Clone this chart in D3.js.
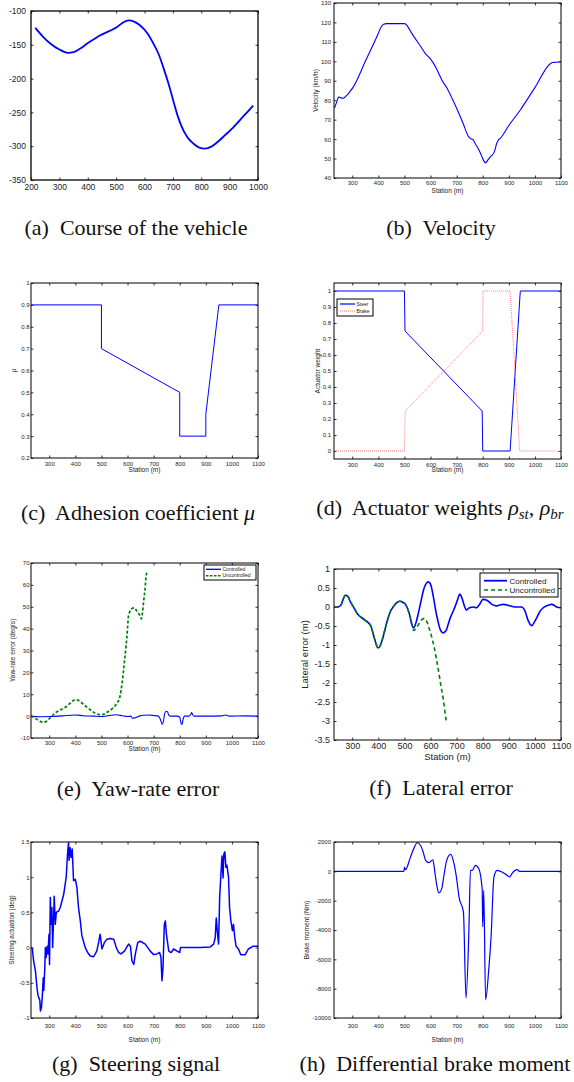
<!DOCTYPE html>
<html>
<head>
<meta charset="utf-8">
<script src="https://cdn.jsdelivr.net/npm/d3@7"></script>
<style>
body { margin: 0; background: #fff; }
svg text { font-family: "Liberation Sans", Arial, sans-serif; }
.cap { font-family: "Liberation Serif", "Times New Roman", serif; white-space: pre; }
</style>
</head>
<body>
<svg id="fig" width="574" height="1082"></svg>
<script>
// ---- data ----
var stationTicks = [300, 400, 500, 600, 700, 800, 900, 1000, 1100];

// (a) course of the vehicle: [x, y]
var courseTicksX = [200, 300, 400, 500, 600, 700, 800, 900, 1000];
var courseTicksY = [-350, -300, -250, -200, -150, -100];
var course = [[215,-125],[240,-137],[268,-148],[300,-157],[330,-161.8],[350,-161],[372,-156],[397,-148.6],[444,-136],[502,-124],[525,-117],[543,-114],[565,-116],[584,-121],[610,-133],[631,-148],[650,-164],[666,-183],[685,-208],[701,-232],[716,-254],[731,-271],[750,-286],[772,-296],[793,-302],[813,-303.5],[834,-301],[854,-295],[883,-284],[913,-272],[948,-256],[983,-240]];

// (b) velocity (km/h)
var velocityTicks = [40, 50, 60, 70, 80, 90, 100, 110, 120, 130];
var velocity = [[232,76],[240,79],[245,81],[250,81.6],[257,81.2],[264,81],[270,81.4],[277,82.2],[290,84.3],[303,86.6],[350,100],[398,113.8],[410,117.5],[420,119.1],[432,119.4],[470,119.4],[500,119.4],[506,119],[512,118],[530,114],[563,107.5],[580,104],[601,101],[620,97],[645,90],[664,86],[684,80.5],[703,75],[725,68],[747,61],[754,60.2],[762,59.8],[772,57.5],[785,54.5],[797,51],[804,48.8],[811,47.8],[820,49.3],[830,51],[842,52.8],[848,55],[853,57.6],[860,59.5],[868,60.5],[900,67],[944,75],[1000,86.5],[1059,98.8],[1068,99.4],[1080,99.5],[1100,99.7]];

// (c) adhesion coefficient
var muTicks = [0.2, 0.3, 0.4, 0.5, 0.6, 0.7, 0.8, 0.9, 1];
var mu = [[230,0.9],[500,0.9],[500,0.7],[800,0.5],[800,0.3],[900,0.3],[900,0.4],[950,0.9],[1100,0.9]];

// (d) actuator weights
var weightTicks = [0, 0.1, 0.2, 0.3, 0.4, 0.5, 0.6, 0.7, 0.8, 0.9, 1];
var steerWeight = [[230,1],[500,1],[502,0.75],[798,0.25],[800,0],[905,0],[944,1],[1100,1]];
var brakeWeight = [[230,0],[500,0],[503,0.25],[800,0.75],[801,1],[905,1],[942,0],[1100,0]];

// (e) yaw-rate error (deg/s)
var yawTicks = [-10, 0, 10, 20, 30, 40, 50, 60, 70];
var yawControlled = [[230,0],[260,-0.3],[300,-0.2],[350,0.1],[400,0.5],[430,0.2],[470,0],[500,-0.2],[530,0.3],[555,0.6],[580,0.2],[600,-0.2],[612,0],[620,-1],[630,-0.7],[645,0],[660,0.4],[680,0.5],[700,0.3],[718,0],[726,-1.5],[733,-3.8],[738,-2],[742,1],[748,2.2],[753,2],[758,0.5],[765,0],[790,0],[800,-0.5],[806,-3.5],[809,-3.8],[813,-1.5],[818,0],[835,0],[842,0.8],[846,1.6],[850,0.5],[856,0],[900,0],[960,0.1],[975,0.5],[990,0],[1050,0.1],[1100,0]];
var yawUncontrolled = [[230,0],[240,-0.5],[253,-1.5],[265,-2.4],[278,-2.8],[288,-2.5],[297,-1.5],[310,0],[323,1.5],[345,3],[367,4.5],[385,6.5],[399,7.5],[412,7.2],[425,6],[440,4.5],[456,3],[472,1.6],[488,0.8],[500,0.6],[507,0.8],[525,2],[545,3.8],[560,6],[571,9],[580,16],[586,22.6],[594,31.7],[600,40],[603,45.3],[608,47.5],[615,49],[625,49.5],[634,48.3],[645,46.5],[653,44.5],[657,47],[662,52.8],[667,58],[672,64.8],[675,65.5]];

// (f) lateral error (m)
var latTicks = [-3.5, -3, -2.5, -2, -1.5, -1, -0.5, 0, 0.5, 1];
var latControlled = [[232,0],[245,0],[258,0.07],[266,0.22],[273,0.31],[283,0.28],[292,0.15],[302,0.03],[321,-0.19],[346,-0.33],[371,-0.5],[386,-0.85],[399,-1.08],[407,-1.02],[415,-0.86],[434,-0.37],[446,-0.12],[460,0.03],[472,0.12],[483,0.15],[494,0.12],[504,0.07],[513,-0.06],[521,-0.24],[528,-0.45],[534,-0.55],[540,-0.5],[546,-0.37],[554,-0.14],[562,0.11],[574,0.47],[582,0.6],[590,0.66],[596,0.64],[602,0.56],[610,0.3],[619,-0.06],[627,-0.33],[635,-0.55],[642,-0.65],[648,-0.68],[654,-0.66],[661,-0.6],[668,-0.45],[676,-0.28],[686,-0.12],[695,0.03],[704,0.2],[712,0.34],[718,0.28],[724,0.16],[730,0.02],[737,-0.08],[743,-0.05],[750,-0.02],[763,0],[776,-0.02],[788,0.07],[801,0.2],[816,0.18],[835,0.07],[854,0.03],[868,0.06],[880,0.07],[899,0.04],[924,0],[950,0],[962,-0.11],[975,-0.37],[988,-0.49],[1000,-0.37],[1010,-0.24],[1020,-0.11],[1032,-0.02],[1045,0.03],[1064,0.07],[1075,0.04],[1083,0],[1100,-0.02]];
var latUncontrolled = [[232,0],[245,0],[258,0.07],[266,0.22],[273,0.31],[283,0.28],[292,0.15],[302,0.03],[321,-0.19],[346,-0.33],[371,-0.5],[386,-0.85],[399,-1.08],[407,-1.02],[415,-0.86],[434,-0.37],[446,-0.12],[460,0.03],[472,0.12],[483,0.15],[494,0.12],[504,0.07],[513,-0.06],[521,-0.24],[528,-0.45],[536,-0.62],[544,-0.55],[553,-0.47],[561,-0.38],[569,-0.32],[576,-0.3],[582,-0.34],[588,-0.42],[594,-0.55],[603,-0.75],[613,-1.03],[622,-1.35],[632,-1.74],[640,-2.08],[649,-2.44],[655,-2.75],[661,-3.04]];

// (g) steering signal (deg)
var steerTicks = [-1, -0.5, 0, 0.5, 1, 1.5];
var steering = [[230,0],[235,-0.01],[240,-0.19],[247,-0.33],[253,-0.57],[257,-0.68],[264,-0.75],[266,-0.9],[270,-0.85],[273,-0.71],[277,-0.43],[279,-0.61],[283,-0.28],[285,0],[288,-0.14],[292,0.02],[295,-0.09],[299,0.19],[301,-0.24],[304,0.71],[307,0.33],[310,0.57],[313,0],[317,0.47],[319,0.73],[323,0.33],[327,0.5],[336,0.52],[342,0.57],[355,0.75],[365,1.0],[370,1.33],[374,1.5],[376,1.24],[380,1.42],[384,1.28],[388,1.4],[393,0.95],[400,0.97],[406,0.85],[412,0.57],[419,0.38],[425,0.17],[431,0.09],[438,0],[447,-0.07],[457,-0.12],[470,-0.13],[482,-0.05],[489,0.07],[495,0.19],[502,-0.02],[511,0.07],[521,0.12],[534,0.13],[547,0.12],[557,0],[566,-0.07],[575,-0.09],[588,-0.05],[604,0.05],[611,0.02],[617,-0.19],[624,-0.24],[630,-0.09],[639,0.07],[649,0.09],[668,0.05],[687,-0.05],[700,-0.1],[713,-0.09],[723,-0.07],[728,-0.14],[732,-0.47],[736,-0.28],[741,0.33],[745,0.38],[749,0.19],[758,-0.05],[767,-0.07],[777,-0.02],[790,-0.05],[800,-0.07],[803,0],[879,0],[917,0.01],[930,0.05],[936,0.14],[940,0.42],[945,0.19],[949,0.05],[953,0.71],[958,1.05],[962,1.3],[966,0.99],[969,1.33],[973,1.36],[977,1.14],[981,1.17],[987,1.0],[991,0.57],[996,0.38],[1002,0.24],[1006,0.33],[1011,0.14],[1016,0.02],[1025,-0.02],[1034,-0.1],[1051,-0.1],[1063,-0.02],[1082,0.02],[1100,0.02]];

// (h) differential brake moment (Nm)
var brakeTicks = [-10000, -8000, -6000, -4000, -2000, 0, 2000];
var brakeMoment = [[230,0],[498,0],[500,290],[504,110],[523,970],[537,1600],[549,1950],[562,1760],[572,1300],[581,750],[594,590],[609,790],[614,300],[619,-380],[626,-1150],[632,-1470],[643,-1180],[652,-200],[662,750],[677,1150],[690,520],[700,-500],[709,-1740],[726,-2760],[736,-8640],[747,-4000],[753,70],[760,70],[772,410],[785,180],[798,-1240],[800,-3780],[804,-1290],[811,-8760],[823,-6720],[832,-4460],[843,-380],[855,70],[874,-45],[893,-270],[904,-380],[912,-160],[932,110],[941,0],[1100,0]];

// ---- drawing ----
var svg = d3.select("#fig");
var blue = "#0000ff", green = "#008000", red = "#ff6b6b";

function panel(o) {
    var b = o.box;
    var g = svg.append("g");
    var x = d3.scaleLinear().domain(o.xdom).range([b[0], b[2]]);
    var y = d3.scaleLinear().domain(o.ydom).range([b[3], b[1]]);
    var fmt = function (d) { return String(+d.toFixed(2)); };
    var tk = o.tick || 2.5;

    function style(sel) {
        sel.select(".domain").remove();
        sel.attr("font-family", null).attr("font-size", o.fs);
        sel.selectAll("line").attr("stroke", "#000").attr("stroke-width", 0.8);
        sel.selectAll("text").attr("fill", "#222");
    }

    g.append("g").attr("transform", "translate(0," + b[3] + ")")
        .call(d3.axisBottom(x).tickValues(o.xt).tickSize(-tk).tickPadding(o.xpad).tickFormat(fmt))
        .call(style);
    g.append("g").attr("transform", "translate(0," + b[1] + ")")
        .call(d3.axisTop(x).tickValues(o.xt).tickSize(-tk).tickFormat(""))
        .call(style);
    g.append("g").attr("transform", "translate(" + b[0] + ",0)")
        .call(d3.axisLeft(y).tickValues(o.yt).tickSize(-tk).tickPadding(o.ypad).tickFormat(fmt))
        .call(style);
    g.append("g").attr("transform", "translate(" + b[2] + ",0)")
        .call(d3.axisRight(y).tickValues(o.yt).tickSize(-tk).tickFormat(""))
        .call(style);

    g.append("clipPath").attr("id", "clip-" + o.id)
        .append("rect")
        .attr("x", b[0]).attr("y", b[1])
        .attr("width", b[2] - b[0]).attr("height", b[3] - b[1]);
    var plot = g.append("g").attr("clip-path", "url(#clip-" + o.id + ")");

    o.series.forEach(function (s) {
        var line = d3.line()
            .x(function (d) { return x(d[0]); })
            .y(function (d) { return y(d[1]); })
            .curve(s.curve || d3.curveLinear);
        plot.append("path")
            .datum(s.data)
            .attr("d", line)
            .attr("fill", "none")
            .attr("stroke", s.color)
            .attr("stroke-width", s.width)
            .attr("stroke-dasharray", s.dash || null)
            .attr("stroke-linejoin", "round");
    });

    g.append("rect")
        .attr("x", b[0]).attr("y", b[1])
        .attr("width", b[2] - b[0]).attr("height", b[3] - b[1])
        .attr("fill", "none").attr("stroke", "#000")
        .attr("stroke-width", o.frame || 1);

    if (o.xlabel) {
        g.append("text")
            .attr("x", (b[0] + b[2]) / 2).attr("y", o.xlabY)
            .attr("text-anchor", "middle")
            .attr("font-size", o.lfs).attr("fill", "#222")
            .text(o.xlabel);
    }
    if (o.ylabel) {
        g.append("text")
            .attr("transform", "translate(" + o.ylabX + "," + (b[1] + b[3]) / 2 + ") rotate(-90)")
            .attr("text-anchor", "middle")
            .attr("dy", "0.35em")
            .attr("font-size", o.lfs).attr("fill", "#222")
            .text(o.ylabel);
    }

    if (o.legend) {
        var L = o.legend;
        g.append("rect")
            .attr("x", L.box[0]).attr("y", L.box[1])
            .attr("width", L.box[2] - L.box[0]).attr("height", L.box[3] - L.box[1])
            .attr("fill", "#fff").attr("stroke", "#000").attr("stroke-width", 1);
        L.rows.forEach(function (r) {
            g.append("line")
                .attr("x1", L.lineX[0]).attr("x2", L.lineX[1])
                .attr("y1", r.y).attr("y2", r.y)
                .attr("stroke", r.color).attr("stroke-width", r.width)
                .attr("stroke-dasharray", r.dash || null);
            g.append("text")
                .attr("x", L.textX).attr("y", r.y)
                .attr("dy", "0.35em")
                .attr("font-size", L.fs).attr("fill", "#222")
                .text(r.label);
        });
    }

    var cap = svg.append("text")
        .attr("class", "cap")
        .attr("x", o.capX).attr("y", o.capY)
        .attr("text-anchor", "middle")
        .attr("font-size", 22)
        .attr("fill", "#111");
    o.caption.forEach(function (p) {
        var t = cap.append("tspan").text(p[0]);
        if (p[1] === "i") t.attr("font-style", "italic");
        if (p[1] === "sub") t.attr("font-style", "italic").attr("font-size", 15).attr("dy", 4);
        if (p[1] === "up") t.attr("dy", -4);
    });
}

panel({
    id: "a", box: [31, 11, 258, 180], xdom: [200, 1000], ydom: [-350, -100],
    xt: courseTicksX, yt: courseTicksY, fs: 8.5, xpad: 3.5, ypad: 5, frame: 1.3, tick: 2.5,
    series: [{ data: course, color: blue, width: 1.8, curve: d3.curveMonotoneX }],
    capX: 136, capY: 235,
    caption: [["(a)  Course of the vehicle"]]
});

panel({
    id: "b", box: [334, 3, 561, 178], xdom: [230, 1100], ydom: [40, 130],
    xt: stationTicks, yt: velocityTicks, fs: 6, xpad: 3, ypad: 3,
    xlabel: "Station (m)", xlabY: 193, ylabel: "Velocity (km/h)", ylabX: 316, lfs: 6.5,
    series: [{ data: velocity, color: blue, width: 1.1, curve: d3.curveMonotoneX }],
    capX: 441, capY: 235,
    caption: [["(b)  Velocity"]]
});

panel({
    id: "c", box: [31, 283, 258, 458], xdom: [230, 1100], ydom: [0.2, 1],
    xt: stationTicks, yt: muTicks, fs: 6, xpad: 3.5, ypad: 1.5,
    xlabel: "Station (m)", xlabY: 472, ylabel: "\u03bc", ylabX: 14, lfs: 6.5,
    series: [{ data: mu, color: blue, width: 1 }],
    capX: 138, capY: 520,
    caption: [["(c)  Adhesion coefficient "], ["\u03bc", "i"]]
});

panel({
    id: "d", box: [334, 283, 561, 459], xdom: [230, 1100], ydom: [-0.05, 1.05],
    xt: stationTicks, yt: weightTicks, fs: 6, xpad: 3.5, ypad: 3,
    xlabel: "Station (m)", xlabY: 472, ylabel: "Actuator weight", ylabX: 318, lfs: 6.5,
    series: [
        { data: steerWeight, color: blue, width: 1 },
        { data: brakeWeight, color: red, width: 0.9, dash: "1,1" }
    ],
    legend: {
        box: [337, 299, 373, 316], lineX: [340, 355], textX: 356.5, fs: 5,
        rows: [
            { y: 304, label: "Steer", color: blue, width: 1.2 },
            { y: 311, label: "Brake", color: red, width: 0.9, dash: "1,1" }
        ]
    },
    capX: 440, capY: 515,
    caption: [["(d)  Actuator weights "], ["\u03c1", "i"], ["st", "sub"], [", ", "up"], ["\u03c1", "i"], ["br", "sub"]]
});

panel({
    id: "e", box: [31, 563, 258, 738], xdom: [230, 1100], ydom: [-10, 70],
    xt: stationTicks, yt: yawTicks, fs: 6, xpad: 3, ypad: 1.5,
    xlabel: "Station (m)", xlabY: 751, ylabel: "Yaw-rate error (deg/s)", ylabX: 13, lfs: 6.5,
    series: [
        { data: yawControlled, color: blue, width: 1.1, curve: d3.curveMonotoneX },
        { data: yawUncontrolled, color: green, width: 1.7, dash: "3,2", curve: d3.curveMonotoneX }
    ],
    legend: {
        box: [204, 565, 256, 580], lineX: [206, 221], textX: 222.5, fs: 5,
        rows: [
            { y: 569.3, label: "Controlled", color: blue, width: 1.3 },
            { y: 575.7, label: "Uncontrolled", color: green, width: 1.5, dash: "2.5,1.5" }
        ]
    },
    capX: 138, capY: 796,
    caption: [["(e)  Yaw-rate error"]]
});

panel({
    id: "f", box: [334, 569, 561, 740], xdom: [230, 1100], ydom: [-3.5, 1],
    xt: stationTicks, yt: latTicks, fs: 9, xpad: 2.5, ypad: 4,
    xlabel: "Station (m)", xlabY: 760, ylabel: "Lateral error (m)", ylabX: 305, lfs: 9.5,
    series: [
        { data: latControlled, color: blue, width: 1.6, curve: d3.curveMonotoneX },
        { data: latUncontrolled, color: green, width: 1.6, dash: "4,3", curve: d3.curveMonotoneX }
    ],
    legend: {
        box: [480, 573, 558, 597], lineX: [484, 507], textX: 509.5, fs: 8.1,
        rows: [
            { y: 580.7, label: "Controlled", color: blue, width: 1.8 },
            { y: 590, label: "Uncontrolled", color: green, width: 1.6, dash: "4,3" }
        ]
    },
    capX: 441, capY: 795,
    caption: [["(f)  Lateral error"]]
});

panel({
    id: "g", box: [31, 842, 258, 1018], xdom: [230, 1100], ydom: [-1, 1.5],
    xt: stationTicks, yt: steerTicks, fs: 6, xpad: 5.5, ypad: 1.5,
    xlabel: "Station (m)", xlabY: 1042, ylabel: "Steering actuation (deg)", ylabX: 12, lfs: 6.5,
    series: [{ data: steering, color: blue, width: 1.5 }],
    capX: 136, capY: 1071,
    caption: [["(g)  Steering signal"]]
});

panel({
    id: "h", box: [334, 842, 561, 1018], xdom: [230, 1100], ydom: [-10000, 2000],
    xt: stationTicks, yt: brakeTicks, fs: 6, xpad: 5.5, ypad: 3,
    xlabel: "Station (m)", xlabY: 1042, ylabel: "Brake moment (Nm)", ylabX: 307, lfs: 6.5,
    series: [{ data: brakeMoment, color: blue, width: 1.2, curve: d3.curveMonotoneX }],
    capX: 435, capY: 1071,
    caption: [["(h)  Differential brake moment"]]
});
</script>
</body>
</html>
